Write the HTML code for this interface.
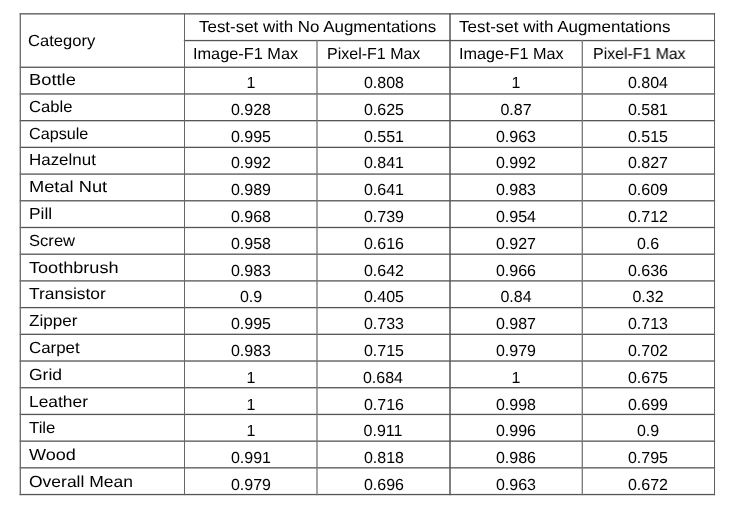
<!DOCTYPE html>
<html><head><meta charset="utf-8"><style>
html,body{margin:0;padding:0;background:#fff;width:740px;height:512px;overflow:hidden;}
.t{position:absolute;font-family:"Liberation Sans",sans-serif;font-size:16.0px;line-height:0;white-space:nowrap;color:#000;will-change:transform;text-rendering:geometricPrecision;transform-origin:0 0;}
.c{width:200px;text-align:center;transform-origin:100px 0;}
svg{position:absolute;left:0;top:0;}
</style></head><body>
<svg width="740" height="512" viewBox="0 0 740 512">
<rect x="19.65" y="13.20" width="695.50" height="1.3" fill="#555"/>
<rect x="183.85" y="39.91" width="531.30" height="1.3" fill="#555"/>
<rect x="19.65" y="66.61" width="695.50" height="1.3" fill="#555"/>
<rect x="19.65" y="93.31" width="695.50" height="1.3" fill="#555"/>
<rect x="19.65" y="120.02" width="695.50" height="1.3" fill="#555"/>
<rect x="19.65" y="146.72" width="695.50" height="1.3" fill="#555"/>
<rect x="19.65" y="173.43" width="695.50" height="1.3" fill="#555"/>
<rect x="19.65" y="200.13" width="695.50" height="1.3" fill="#555"/>
<rect x="19.65" y="226.84" width="695.50" height="1.3" fill="#555"/>
<rect x="19.65" y="253.54" width="695.50" height="1.3" fill="#555"/>
<rect x="19.65" y="280.25" width="695.50" height="1.3" fill="#555"/>
<rect x="19.65" y="306.96" width="695.50" height="1.3" fill="#555"/>
<rect x="19.65" y="333.66" width="695.50" height="1.3" fill="#555"/>
<rect x="19.65" y="360.37" width="695.50" height="1.3" fill="#555"/>
<rect x="19.65" y="387.07" width="695.50" height="1.3" fill="#555"/>
<rect x="19.65" y="413.78" width="695.50" height="1.3" fill="#555"/>
<rect x="19.65" y="440.48" width="695.50" height="1.3" fill="#555"/>
<rect x="19.65" y="467.19" width="695.50" height="1.3" fill="#555"/>
<rect x="19.65" y="493.89" width="695.50" height="1.3" fill="#555"/>
<rect x="19.65" y="13.20" width="1.3" height="481.99" fill="#6a6a6a"/>
<rect x="714.00" y="13.20" width="1.0" height="481.99" fill="#606060"/>
<rect x="184.00" y="13.20" width="1.0" height="481.99" fill="#666"/>
<rect x="449.25" y="13.20" width="1.5" height="481.99" fill="#555"/>
<rect x="316.35" y="39.91" width="1.3" height="455.28" fill="#777"/>
<rect x="581.65" y="39.91" width="1.3" height="455.28" fill="#777"/>
</svg>
<div class="t" style="left:198.78px;top:28px;transform:scaleX(1.0580)">Test-set with No Augmentations</div>
<div class="t" style="left:459.31px;top:28px;transform:scaleX(1.0613)">Test-set with Augmentations</div>
<div class="t" style="left:28.45px;top:42px;transform:scaleX(1.0348)">Category</div>
<div class="t" style="left:193.47px;top:55px;transform:scaleX(1.0196)">Image-F1 Max</div>
<div class="t" style="left:327.10px;top:55px;transform:scaleX(1.0000)">Pixel-F1 Max</div>
<div class="t" style="left:458.99px;top:55px;transform:scaleX(1.0139)">Image-F1 Max</div>
<div class="t" style="left:592.60px;top:55px;transform:scaleX(0.9915)">Pixel-F1 Max</div>
<div class="t" style="left:28.78px;top:81px;transform:scaleX(1.1449)">Bottle</div>
<div class="t c" style="left:150.55px;top:84px;transform:scaleX(1.0000)">1</div>
<div class="t c" style="left:283.65px;top:84px;transform:scaleX(1.0000)">0.808</div>
<div class="t c" style="left:416.10px;top:84px;transform:scaleX(1.0000)">1</div>
<div class="t c" style="left:548.00px;top:84px;transform:scaleX(1.0000)">0.804</div>
<div class="t" style="left:28.93px;top:108px;transform:scaleX(1.0404)">Cable</div>
<div class="t c" style="left:150.55px;top:111px;transform:scaleX(1.0000)">0.928</div>
<div class="t c" style="left:283.65px;top:111px;transform:scaleX(1.0000)">0.625</div>
<div class="t c" style="left:416.10px;top:111px;transform:scaleX(1.0000)">0.87</div>
<div class="t c" style="left:548.00px;top:111px;transform:scaleX(1.0000)">0.581</div>
<div class="t" style="left:28.98px;top:135px;transform:scaleX(1.0108)">Capsule</div>
<div class="t c" style="left:150.55px;top:138px;transform:scaleX(1.0000)">0.995</div>
<div class="t c" style="left:283.65px;top:138px;transform:scaleX(1.0000)">0.551</div>
<div class="t c" style="left:416.10px;top:138px;transform:scaleX(1.0000)">0.963</div>
<div class="t c" style="left:548.00px;top:138px;transform:scaleX(1.0000)">0.515</div>
<div class="t" style="left:28.92px;top:161px;transform:scaleX(1.0584)">Hazelnut</div>
<div class="t c" style="left:150.55px;top:164px;transform:scaleX(1.0000)">0.992</div>
<div class="t c" style="left:283.65px;top:164px;transform:scaleX(1.0000)">0.841</div>
<div class="t c" style="left:416.10px;top:164px;transform:scaleX(1.0000)">0.992</div>
<div class="t c" style="left:548.00px;top:164px;transform:scaleX(1.0000)">0.827</div>
<div class="t" style="left:28.80px;top:188px;transform:scaleX(1.1412)">Metal Nut</div>
<div class="t c" style="left:150.55px;top:191px;transform:scaleX(1.0000)">0.989</div>
<div class="t c" style="left:283.65px;top:191px;transform:scaleX(1.0000)">0.641</div>
<div class="t c" style="left:416.10px;top:191px;transform:scaleX(1.0000)">0.983</div>
<div class="t c" style="left:548.00px;top:191px;transform:scaleX(1.0000)">0.609</div>
<div class="t" style="left:28.90px;top:215px;transform:scaleX(1.0822)">Pill</div>
<div class="t c" style="left:150.55px;top:218px;transform:scaleX(1.0000)">0.968</div>
<div class="t c" style="left:283.65px;top:218px;transform:scaleX(1.0000)">0.739</div>
<div class="t c" style="left:416.10px;top:218px;transform:scaleX(1.0000)">0.954</div>
<div class="t c" style="left:548.00px;top:218px;transform:scaleX(1.0000)">0.712</div>
<div class="t" style="left:28.95px;top:242px;transform:scaleX(1.0365)">Screw</div>
<div class="t c" style="left:150.55px;top:245px;transform:scaleX(1.0000)">0.958</div>
<div class="t c" style="left:283.65px;top:245px;transform:scaleX(1.0000)">0.616</div>
<div class="t c" style="left:416.10px;top:245px;transform:scaleX(1.0000)">0.927</div>
<div class="t c" style="left:548.00px;top:245px;transform:scaleX(1.0000)">0.6</div>
<div class="t" style="left:28.69px;top:269px;transform:scaleX(1.1310)">Toothbrush</div>
<div class="t c" style="left:150.55px;top:272px;transform:scaleX(1.0000)">0.983</div>
<div class="t c" style="left:283.65px;top:272px;transform:scaleX(1.0000)">0.642</div>
<div class="t c" style="left:416.10px;top:272px;transform:scaleX(1.0000)">0.966</div>
<div class="t c" style="left:548.00px;top:272px;transform:scaleX(1.0000)">0.636</div>
<div class="t" style="left:28.69px;top:295px;transform:scaleX(1.0888)">Transistor</div>
<div class="t c" style="left:150.55px;top:298px;transform:scaleX(1.0000)">0.9</div>
<div class="t c" style="left:283.65px;top:298px;transform:scaleX(1.0000)">0.405</div>
<div class="t c" style="left:416.10px;top:298px;transform:scaleX(1.0000)">0.84</div>
<div class="t c" style="left:548.00px;top:298px;transform:scaleX(1.0000)">0.32</div>
<div class="t" style="left:28.57px;top:322px;transform:scaleX(1.0670)">Zipper</div>
<div class="t c" style="left:150.55px;top:325px;transform:scaleX(1.0000)">0.995</div>
<div class="t c" style="left:283.65px;top:325px;transform:scaleX(1.0000)">0.733</div>
<div class="t c" style="left:416.10px;top:325px;transform:scaleX(1.0000)">0.987</div>
<div class="t c" style="left:548.00px;top:325px;transform:scaleX(1.0000)">0.713</div>
<div class="t" style="left:28.92px;top:349px;transform:scaleX(1.0556)">Carpet</div>
<div class="t c" style="left:150.55px;top:352px;transform:scaleX(1.0000)">0.983</div>
<div class="t c" style="left:283.65px;top:352px;transform:scaleX(1.0000)">0.715</div>
<div class="t c" style="left:416.10px;top:352px;transform:scaleX(1.0000)">0.979</div>
<div class="t c" style="left:548.00px;top:352px;transform:scaleX(1.0000)">0.702</div>
<div class="t" style="left:28.86px;top:376px;transform:scaleX(1.0943)">Grid</div>
<div class="t c" style="left:150.55px;top:379px;transform:scaleX(1.0000)">1</div>
<div class="t c" style="left:282.65px;top:379px;transform:scaleX(1.0000)">0.684</div>
<div class="t c" style="left:416.10px;top:379px;transform:scaleX(1.0000)">1</div>
<div class="t c" style="left:548.00px;top:379px;transform:scaleX(1.0000)">0.675</div>
<div class="t" style="left:28.88px;top:403px;transform:scaleX(1.0871)">Leather</div>
<div class="t c" style="left:150.55px;top:406px;transform:scaleX(1.0000)">1</div>
<div class="t c" style="left:283.65px;top:406px;transform:scaleX(1.0000)">0.716</div>
<div class="t c" style="left:416.10px;top:406px;transform:scaleX(1.0000)">0.998</div>
<div class="t c" style="left:548.00px;top:406px;transform:scaleX(1.0000)">0.699</div>
<div class="t" style="left:28.70px;top:429px;transform:scaleX(1.0487)">Tile</div>
<div class="t c" style="left:150.55px;top:432px;transform:scaleX(1.0000)">1</div>
<div class="t c" style="left:282.65px;top:432px;transform:scaleX(1.0000)">0.911</div>
<div class="t c" style="left:416.10px;top:432px;transform:scaleX(1.0000)">0.996</div>
<div class="t c" style="left:548.00px;top:432px;transform:scaleX(1.0000)">0.9</div>
<div class="t" style="left:28.69px;top:456px;transform:scaleX(1.1271)">Wood</div>
<div class="t c" style="left:150.55px;top:459px;transform:scaleX(1.0000)">0.991</div>
<div class="t c" style="left:283.65px;top:459px;transform:scaleX(1.0000)">0.818</div>
<div class="t c" style="left:416.10px;top:459px;transform:scaleX(1.0000)">0.986</div>
<div class="t c" style="left:548.00px;top:459px;transform:scaleX(1.0000)">0.795</div>
<div class="t" style="left:28.87px;top:483px;transform:scaleX(1.0926)">Overall Mean</div>
<div class="t c" style="left:150.55px;top:486px;transform:scaleX(1.0000)">0.979</div>
<div class="t c" style="left:283.65px;top:486px;transform:scaleX(1.0000)">0.696</div>
<div class="t c" style="left:416.10px;top:486px;transform:scaleX(1.0000)">0.963</div>
<div class="t c" style="left:548.00px;top:486px;transform:scaleX(1.0000)">0.672</div>
</body></html>
